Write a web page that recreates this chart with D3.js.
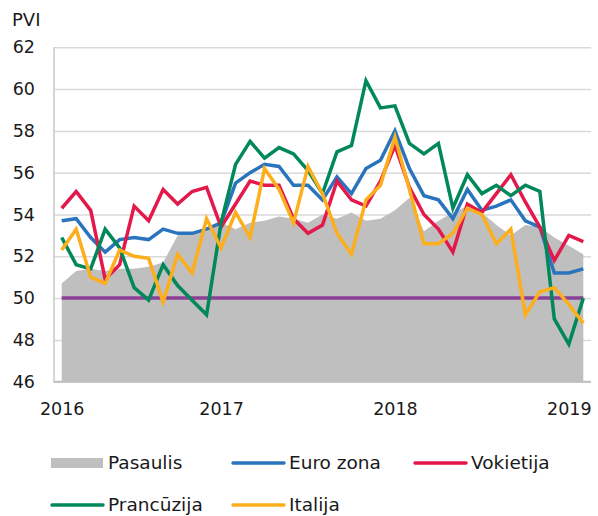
<!DOCTYPE html>
<html>
<head>
<meta charset="utf-8">
<script src="https://cdn.jsdelivr.net/npm/d3@7/dist/d3.min.js"></script>
<style>
  html, body { margin: 0; padding: 0; background: #fff; }
  svg text { font-family: "DejaVu Sans", Verdana, sans-serif; fill: #1a1a1a; }
</style>
</head>
<body>
<div id="chart"></div>
<script>
// monthly PMI, Jan 2016 .. Jan 2019
var pasaulis   = [50.7, 51.3, 51.4, 51.3, 51.4, 51.4, 51.5, 51.7, 53.0, 53.1, 53.2, 53.6, 53.3, 53.6, 53.7, 53.9, 53.8, 53.6, 54.0, 53.8, 54.1, 53.7, 53.8, 54.2, 54.8, 53.2, 53.7, 54.1, 54.4, 54.1, 53.5, 53.0, 53.5, 53.4, 52.9, 52.5, 52.1];
var euroZona   = [53.7, 53.8, 52.9, 52.2, 52.8, 52.9, 52.8, 53.3, 53.1, 53.1, 53.3, 53.6, 55.5, 56.0, 56.4, 56.3, 55.4, 55.4, 54.7, 55.8, 55.0, 56.2, 56.6, 58.0, 56.2, 54.9, 54.7, 53.8, 55.2, 54.2, 54.4, 54.7, 53.7, 53.4, 51.2, 51.2, 51.4];
var vokietija  = [54.3, 55.1, 54.2, 50.9, 51.6, 54.4, 53.7, 55.2, 54.5, 55.1, 55.3, 53.4, 54.5, 55.6, 55.4, 55.4, 53.8, 53.1, 53.5, 55.6, 54.7, 54.4, 55.6, 57.3, 55.3, 54.0, 53.3, 52.2, 54.5, 54.1, 55.0, 55.9, 54.6, 53.4, 51.8, 53.0, 52.7];
var prancuzija = [52.9, 51.6, 51.4, 53.3, 52.4, 50.5, 49.9, 51.6, 50.6, 49.9, 49.2, 53.6, 56.4, 57.5, 56.7, 57.2, 56.9, 56.1, 55.0, 57.0, 57.3, 60.4, 59.1, 59.2, 57.4, 56.9, 57.4, 54.3, 55.9, 55.0, 55.4, 54.9, 55.4, 55.1, 49.0, 47.8, 50.0];
var italija    = [52.3, 53.3, 51.0, 50.7, 52.3, 52.0, 51.9, 49.8, 52.1, 51.2, 53.8, 52.4, 54.1, 52.9, 56.2, 55.2, 53.6, 56.3, 55.0, 53.1, 52.1, 54.7, 55.4, 57.7, 55.2, 52.6, 52.6, 53.1, 54.3, 54.0, 52.6, 53.3, 49.2, 50.3, 50.5, 49.7, 48.8];
var threshold  = 50;

var yTicks = [46, 48, 50, 52, 54, 56, 58, 60, 62];
var xTickIdx = [0, 11, 23, 35];
var xTickLabels = ['2016', '2017', '2018', '2019'];

var lineSeries = [
    { name: 'Euro zona',  values: euroZona,   color: '#2a74be' },
    { name: 'Vokietija',  values: vokietija,  color: '#e3194b' },
    { name: 'Prancūzija', values: prancuzija, color: '#00885a' },
    { name: 'Italija',    values: italija,    color: '#fdae1c' }
];

var width = 598, height = 516;
var plotLeft = 54, plotRight = 591, plotTop = 47.3, plotBottom = 381.7;

var svg = d3.select('#chart').append('svg')
    .attr('width', width)
    .attr('height', height);

var x = d3.scaleLinear()
    .domain([0, pasaulis.length - 1])
    .range([61.7, 583.3]);

var y = d3.scaleLinear()
    .domain([46, 62])
    .range([plotBottom, plotTop]);

// gridlines
var grid = svg.append('g')
    .attr('transform', 'translate(' + plotLeft + ',0)')
    .call(d3.axisLeft(y).tickValues(yTicks).tickSize(-(plotRight - plotLeft)).tickFormat(''));
grid.select('.domain').remove();
grid.selectAll('line').attr('stroke', '#d9d9d9').attr('stroke-width', 1.5);

// world area
var area = d3.area()
    .x(function (d, i) { return x(i); })
    .y0(y(46))
    .y1(function (d) { return y(d); });

svg.append('path')
    .datum(pasaulis)
    .attr('fill', '#bfbfbf')
    .attr('d', area);

// axis lines
svg.append('line')
    .attr('x1', plotLeft).attr('x2', plotLeft)
    .attr('y1', plotTop).attr('y2', plotBottom + 1)
    .attr('stroke', '#c8c8c8').attr('stroke-width', 1.5);
svg.append('line')
    .attr('x1', plotLeft).attr('x2', plotRight)
    .attr('y1', plotBottom).attr('y2', plotBottom)
    .attr('stroke', '#bfbfbf').attr('stroke-width', 2);

// 50 line
svg.append('line')
    .attr('x1', x(0)).attr('x2', x(pasaulis.length - 1))
    .attr('y1', y(threshold)).attr('y2', y(threshold))
    .attr('stroke', '#8c3f97').attr('stroke-width', 3.5);

var line = d3.line()
    .x(function (d, i) { return x(i); })
    .y(function (d) { return y(d); });

svg.selectAll('.series')
    .data(lineSeries)
    .enter()
    .append('path')
    .attr('class', 'series')
    .attr('fill', 'none')
    .attr('stroke', function (d) { return d.color; })
    .attr('stroke-width', 3.5)
    .attr('stroke-linejoin', 'miter')
    .attr('d', function (d) { return line(d.values); });

// y labels
var yAxis = svg.append('g')
    .attr('transform', 'translate(' + plotLeft + ',0)')
    .call(d3.axisLeft(y).tickValues(yTicks).tickSize(0).tickPadding(19));
yAxis.select('.domain').remove();
yAxis.selectAll('text')
    .attr('font-size', 17.5)
    .attr('font-family', '"DejaVu Sans", Verdana, sans-serif')
    .attr('fill', '#1a1a1a');

// x labels
var xAxis = svg.append('g')
    .attr('transform', 'translate(0,' + plotBottom + ')')
    .call(d3.axisBottom(x).tickValues(xTickIdx)
        .tickFormat(function (d, i) { return xTickLabels[i]; })
        .tickSize(0).tickPadding(21));
xAxis.select('.domain').remove();
xAxis.selectAll('text')
    .attr('font-size', 17.5)
    .attr('font-family', '"DejaVu Sans", Verdana, sans-serif')
    .attr('fill', '#1a1a1a');

svg.append('text')
    .attr('x', 12)
    .attr('y', 26)
    .attr('font-size', 18)
    .text('PVI');

// legend
var legendItems = [
    { name: 'Pasaulis', color: '#bfbfbf', rect: true, x: 51, y: 463 },
    { name: lineSeries[0].name, color: lineSeries[0].color, x: 232, y: 463 },
    { name: lineSeries[1].name, color: lineSeries[1].color, x: 414, y: 463 },
    { name: lineSeries[2].name, color: lineSeries[2].color, x: 51, y: 505 },
    { name: lineSeries[3].name, color: lineSeries[3].color, x: 232, y: 505 }
];

var legend = svg.selectAll('.legend')
    .data(legendItems)
    .enter()
    .append('g')
    .attr('class', 'legend')
    .attr('transform', function (d) { return 'translate(' + d.x + ',' + d.y + ')'; });

legend.filter(function (d) { return d.rect; })
    .append('rect')
    .attr('x', 0).attr('y', -5)
    .attr('width', 52).attr('height', 10)
    .attr('fill', function (d) { return d.color; });

legend.filter(function (d) { return !d.rect; })
    .append('line')
    .attr('x1', 1).attr('x2', 52)
    .attr('y1', 0).attr('y2', 0)
    .attr('stroke', function (d) { return d.color; })
    .attr('stroke-width', 3.5)
    .attr('stroke-linecap', 'round');

legend.append('text')
    .attr('x', 57)
    .attr('y', 0)
    .attr('dy', '0.35em')
    .attr('font-size', 18.5)
    .text(function (d) { return d.name; });
</script>
</body>
</html>
